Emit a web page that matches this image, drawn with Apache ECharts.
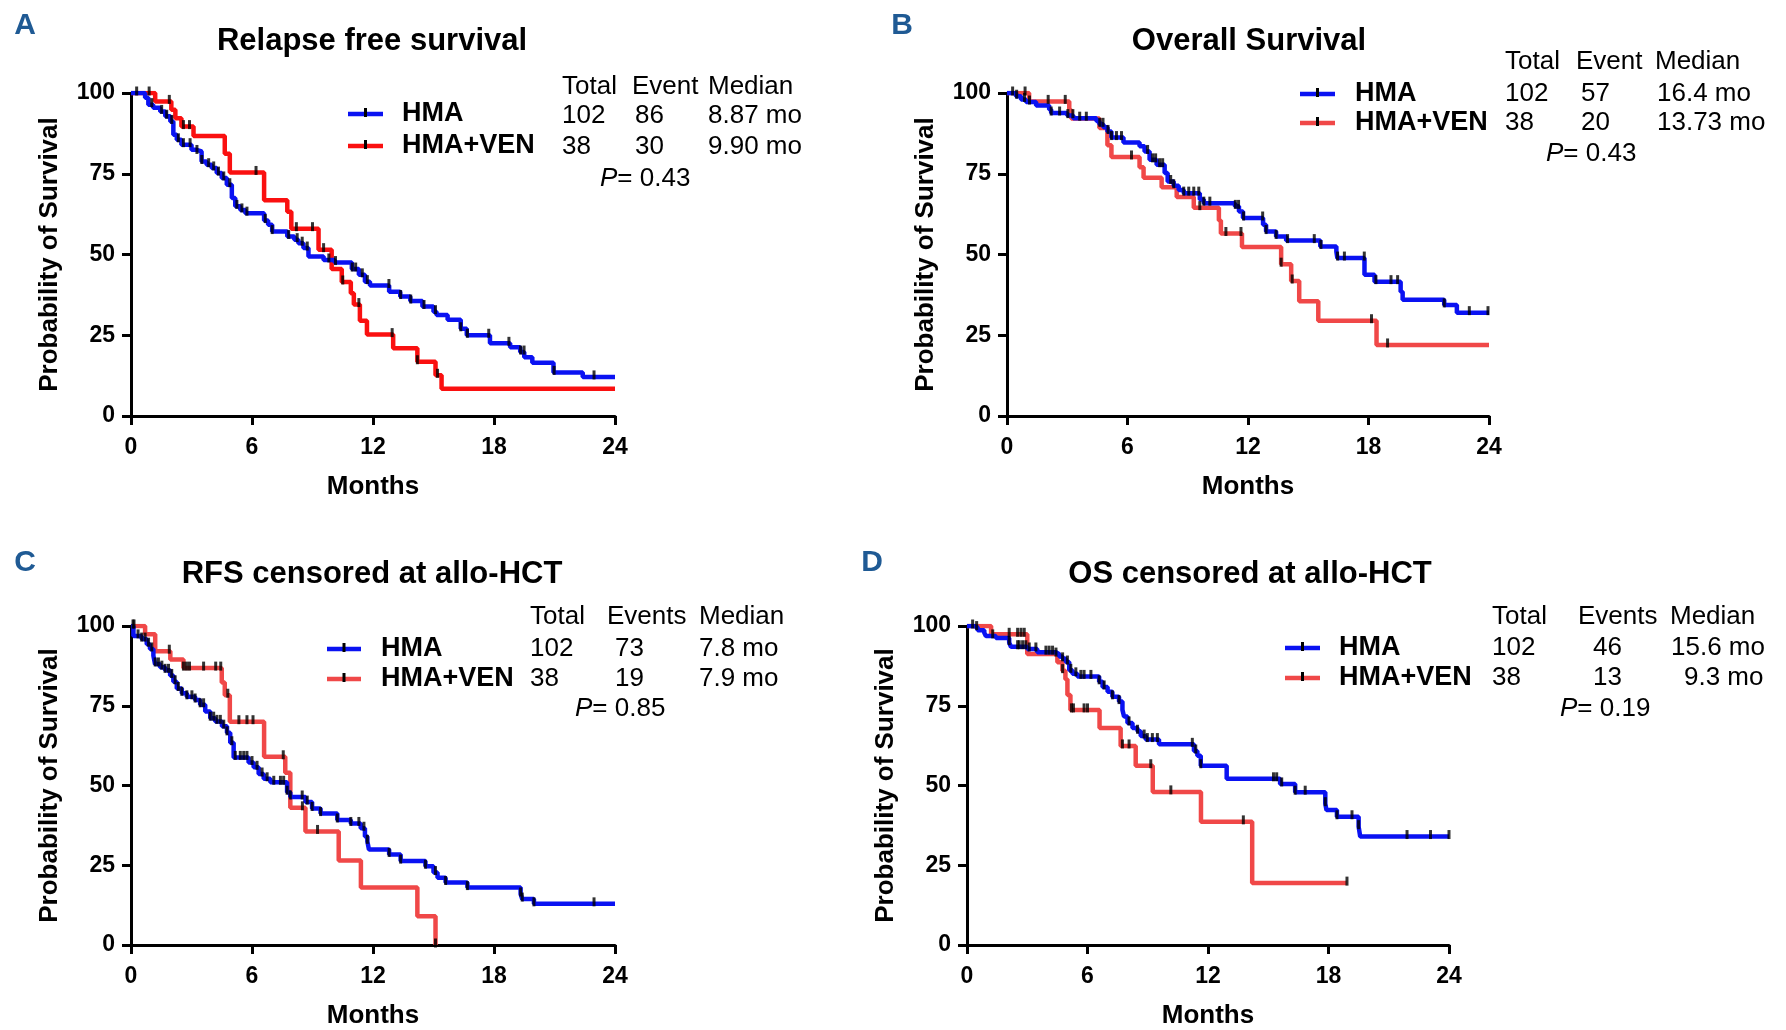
<!DOCTYPE html>
<html>
<head>
<meta charset="utf-8">
<script src="https://cdn.jsdelivr.net/npm/echarts@6/dist/echarts.min.js"></script>
<style>
html,body{margin:0;padding:0;background:#fff;}
#chart{width:1786px;height:1030px;}
</style>
</head>
<body>
<div id="chart"></div>
<script>
// ---------- DATA ----------
var xTicks = [0, 6, 12, 18, 24];
var yTicks = [0, 25, 50, 75, 100];
var groupNames = ['HMA', 'HMA+VEN'];

// Panel A: Relapse free survival  [month, % surviving after step]
var rfsHMA = [[0,100],[0.7,98.5],[0.86,96.4],[1.1,95.4],[1.45,94.3],[1.7,92.8],[1.95,91.2],[2.1,87.1],[2.27,85.5],[2.5,84],[3.0,82.4],[3.25,81.9],[3.5,78.8],[3.75,77.8],[4.0,76.8],[4.25,75.2],[4.5,73.7],[4.75,71.6],[5.0,67.5],[5.17,64.9],[5.42,63.8],[5.67,62.8],[6.6,60.5],[6.8,59.2],[7.0,57.1],[7.75,55.6],[8.1,54.6],[8.3,53.5],[8.55,52],[8.8,49.4],[9.55,48.3],[10.1,47.5],[10.95,45.5],[11.3,43.7],[11.6,41.6],[11.85,40.4],[12.8,38.5],[13.35,37],[13.85,35.6],[14.45,33.9],[15.0,32.3],[15.15,31.3],[15.7,29.8],[16.35,27],[16.65,25],[17.8,22.5],[18.8,21.3],[19.3,19.8],[19.5,18.2],[19.9,16.5],[20.95,13.5],[22.4,12.1],[24,12.1]];
var rfsHMACens = [0.28,1.03,1.52,1.77,2.02,2.35,2.6,2.93,3.27,3.51,3.85,4.1,4.34,4.6,4.9,5.25,5.5,5.75,6.66,7.0,7.82,8.24,8.49,8.74,9.81,10.14,10.97,11.14,11.47,11.72,12.79,13.37,13.87,14.53,15.1,16.35,16.68,17.74,18.74,19.32,19.49,20.98,22.96];
var rfsVEN = [[0,100],[1.2,97.4],[2.0,94.8],[2.2,92.2],[2.5,89.6],[3.1,86.7],[4.65,81.2],[4.9,75.4],[6.6,66.8],[7.75,63.2],[7.95,58],[9.3,51.5],[9.95,45.5],[10.45,41.5],[10.9,38],[11.05,34.5],[11.35,29.5],[11.7,25.2],[13.0,21],[14.2,16.8],[15.1,12.6],[15.4,8.4],[24,8.4]];
var rfsVENCens = [0.9,1.9,2.6,2.9,6.2,8.2,9.0,9.55,10.5,11.3,12.95,14.2,15.2];

// Panel B: Overall Survival
var osHMA = [[0,100],[0.45,99],[0.7,98],[0.95,97.2],[1.45,96.1],[2.1,94.9],[2.2,93.8],[3.0,93],[3.3,92.2],[4.45,91.3],[4.6,90.3],[4.8,89.4],[5.0,88.1],[5.2,86.2],[5.8,84.7],[6.6,83.5],[6.85,81.9],[7.1,79.3],[7.45,77.8],[7.85,75.2],[8.0,72.6],[8.3,71.3],[8.55,70],[8.8,69],[9.6,67],[9.8,65.9],[11.35,64.9],[11.55,63.3],[11.75,61.3],[12.75,59.2],[12.9,57.1],[13.4,55.6],[13.9,54.3],[15.6,52.5],[16.4,50.9],[16.45,48.9],[17.8,43.7],[18.3,41.6],[19.6,38.5],[19.7,36],[21.77,34.4],[22.4,32],[24,32]];
var osHMACens = [0.28,0.48,0.87,1.12,2.2,2.62,3.03,3.28,3.62,3.95,4.62,4.78,5.03,5.2,5.45,5.7,7.0,7.25,7.4,7.6,7.75,8.15,8.3,8.8,9.05,9.3,9.55,9.8,10.1,11.37,11.53,11.78,12.73,12.9,13.4,13.97,15.3,15.63,16.46,16.8,17.79,18.37,19.12,19.45,21.77,23.02,23.95];
var osVEN = [[0,100],[1.1,97.4],[3.1,94.7],[3.2,92.1],[4.6,89.2],[5.0,83.8],[5.2,80.2],[6.6,77],[6.8,73.8],[7.7,70.8],[8.45,67.8],[9.3,64.5],[10.55,60.5],[10.65,56.5],[11.7,52.3],[13.65,47],[14.15,41.8],[14.55,35.5],[15.5,29.5],[18.4,22],[24,22]];
var osVENCens = [0.9,2.05,2.9,6.2,9.6,10.9,11.65,13.65,14.2,18.15,18.95];

// Panel C: RFS censored at allo-HCT
var rfsCensHMA = [[0,100],[0.12,96.9],[0.53,95.9],[0.78,94.3],[0.94,92.8],[1.11,90.7],[1.19,88.1],[1.44,87.1],[1.69,86.1],[1.94,84.5],[2.1,82.5],[2.27,80.4],[2.52,78.9],[2.77,77.8],[3.18,76.8],[3.43,75.3],[3.68,73.2],[3.93,71.1],[4.18,70.1],[4.51,68.6],[4.76,66.5],[4.92,63.4],[5.09,58.8],[5.83,57.2],[6.08,55.7],[6.33,53.6],[6.58,52.1],[6.91,51],[7.74,47.9],[7.9,46.4],[8.65,44.8],[8.98,42.8],[9.4,41.2],[10.23,39.2],[10.9,38.1],[11.39,36.6],[11.6,34],[11.72,32.5],[11.8,29.9],[12.8,28.4],[13.37,26.3],[14.6,24.7],[15.0,22.7],[15.2,21.1],[15.6,19.6],[16.68,18],[19.32,16],[19.4,14.4],[19.98,12.9],[24,12.9]];
var rfsCensHMACens = [0.1,0.35,0.53,0.7,0.87,1.03,1.2,1.36,1.53,1.69,1.86,2.02,2.19,2.35,2.52,2.77,3.02,3.18,3.43,3.6,3.93,4.1,4.26,4.43,4.6,4.76,5.0,5.17,5.42,5.59,5.75,6.0,6.25,6.5,6.75,7.08,7.41,7.57,7.74,7.9,8.49,8.74,8.98,9.4,10.23,10.9,11.3,11.55,11.72,12.8,13.37,14.6,15.1,15.6,16.68,19.32,19.4,19.98,22.96];
var rfsCensVEN = [[0,100],[0.7,97.4],[1.2,92.1],[1.95,89.5],[2.6,86.8],[4.5,82.3],[4.65,78.3],[4.9,70],[6.6,59],[7.65,54],[7.9,43],[8.65,35.6],[10.3,26.5],[11.4,18],[14.2,9],[15.1,0]];
var rfsCensVENCens = [0.15,1.9,2.6,2.75,2.9,3.6,4.2,4.45,4.8,5.35,5.75,6.05,7.55,8.5,9.25,15.1];

// Panel D: OS censored at allo-HCT
var osCensHMA = [[0,100],[0.36,99.5],[0.53,98.7],[0.86,97.9],[0.94,96.9],[1.44,96.2],[2.1,94.8],[2.19,93.5],[3.0,92.8],[3.5,91.8],[4.43,91.2],[4.59,90.4],[4.76,89.7],[4.92,88.7],[5.09,86.1],[5.25,85],[5.5,84.2],[6.58,82.5],[6.75,80.9],[7.0,79.4],[7.24,77.8],[7.57,76.3],[7.74,73.7],[7.82,71.6],[7.99,69.6],[8.24,68],[8.49,67],[8.65,65.5],[8.9,64.4],[9.56,62.9],[11.3,60.8],[11.47,59.3],[11.64,56.2],[12.93,52.1],[15.59,50.5],[16.34,47.9],[17.84,44.3],[17.9,42.3],[18.42,40.2],[19.5,37.1],[19.58,34],[24,34]];
var osCensHMACens = [0.28,0.48,1.28,2.1,2.52,2.6,2.77,2.93,3.1,3.43,3.93,4.09,4.26,4.43,4.76,5.0,5.17,5.42,5.67,5.83,6.17,6.58,6.83,7.24,7.57,8.07,8.49,8.82,8.98,9.23,9.48,11.22,11.39,11.64,15.26,15.42,15.67,16.34,16.84,17.84,18.42,19.17,19.5,21.91,23.08,24];
var osCensVEN = [[0,100],[1.2,97.4],[3.0,91.2],[4.5,88.6],[4.75,86],[4.9,83.3],[5.0,78.4],[5.15,73.7],[6.6,68],[7.65,62.4],[8.4,56.2],[9.25,48],[11.65,38.6],[14.2,19.4],[18.9,19.4]];
var osCensVENCens = [2.1,2.52,2.69,2.85,4.76,5.2,5.3,5.83,6.0,7.74,8.07,9.15,10.15,13.76,18.92];

// Summary tables
var tableA = {head:['Total','Event','Median'], hma:['102','86','8.87 mo'], ven:['38','30','9.90 mo'], p:'0.43'};
var tableB = {head:['Total','Event','Median'], hma:['102','57','16.4 mo'], ven:['38','20','13.73 mo'], p:'0.43'};
var tableC = {head:['Total','Events','Median'], hma:['102','73','7.8 mo'], ven:['38','19','7.9 mo'], p:'0.85'};
var tableD = {head:['Total','Events','Median'], hma:['102','46','15.6 mo'], ven:['38','13','9.3 mo'], p:'0.19'};

// ---------- LAYOUT ----------
var FONT = "'Liberation Sans', Arial, Helvetica, sans-serif";
var BLUE = '#0a12f2';
var panels = [
  {letter:'A', title:'Relapse free survival', hma:rfsHMA, hmaC:rfsHMACens, ven:rfsVEN, venC:rfsVENCens, tbl:tableA, red:'#fa1010',
   grid:{left:131, top:93, width:484, height:323}, titleXY:[372,41], letterXY:[25,26],
   leg:{x1:348, x2:383, y1:114, y2:146, tx:402}, cols:[562,632,708], rowY:[87,116,147], valX:[562,635,708], pXY:[600,179]},
  {letter:'B', title:'Overall Survival', hma:osHMA, hmaC:osHMACens, ven:osVEN, venC:osVENCens, tbl:tableB, red:'#f04848',
   grid:{left:1007, top:93, width:482, height:323}, titleXY:[1249,41], letterXY:[902,26],
   leg:{x1:1300, x2:1335, y1:94, y2:123, tx:1355}, cols:[1505,1576,1655], rowY:[62,94,123], valX:[1505,1581,1657], pXY:[1546,154]},
  {letter:'C', title:'RFS censored at allo-HCT', hma:rfsCensHMA, hmaC:rfsCensHMACens, ven:rfsCensVEN, venC:rfsCensVENCens, tbl:tableC, red:'#f04848',
   grid:{left:131, top:626, width:484, height:324}, titleXY:[372,574], letterXY:[25,563],
   leg:{x1:327, x2:361, y1:649, y2:679, tx:381}, cols:[530,607,699], rowY:[617,649,679], valX:[530,615,699], pXY:[575,709]},
  {letter:'D', title:'OS censored at allo-HCT', hma:osCensHMA, hmaC:osCensHMACens, ven:osCensVEN, venC:osCensVENCens, tbl:tableD, red:'#f04848',
   grid:{left:967, top:626, width:482, height:324}, titleXY:[1250,574], letterXY:[872,563],
   leg:{x1:1285, x2:1320, y1:648, y2:678, tx:1339}, cols:[1492,1578,1670], rowY:[617,648,678], valX:[1492,1593,1671,1684], pXY:[1560,709]}
];

function stepValue(curve, t) {
  var v = curve[0][1];
  for (var i = 0; i < curve.length; i++) { if (curve[i][0] <= t + 1e-9) v = curve[i][1]; else break; }
  return v;
}

var grids = [], xAxes = [], yAxes = [], series = [], graphics = [];
var axisLabelStyle = {color:'#000', fontWeight:'bold', fontSize:23, fontFamily:FONT};
var nameStyle = {color:'#000', fontWeight:'bold', fontSize:26, fontFamily:FONT};

panels.forEach(function(p, i) {
  grids.push({left:p.grid.left, top:p.grid.top, width:p.grid.width, height:p.grid.height, containLabel:false});
  xAxes.push({type:'value', gridIndex:i, min:xTicks[0], max:xTicks[xTicks.length-1], interval:xTicks[1]-xTicks[0],
    axisLine:{show:true, onZero:false, lineStyle:{color:'#000', width:3}},
    axisTick:{show:true, length:9, lineStyle:{color:'#000', width:3}},
    axisLabel:Object.assign({margin:20}, axisLabelStyle), splitLine:{show:false},
    name:'Months', nameLocation:'middle', nameGap:58, nameTextStyle:nameStyle});
  yAxes.push({type:'value', gridIndex:i, min:yTicks[0], max:yTicks[yTicks.length-1], interval:yTicks[1]-yTicks[0],
    axisLine:{show:true, onZero:false, lineStyle:{color:'#000', width:3}},
    axisTick:{show:true, length:9, lineStyle:{color:'#000', width:3}},
    axisLabel:Object.assign({margin:16}, axisLabelStyle), splitLine:{show:false},
    name:'Probability of Survival', nameLocation:'middle', nameRotate:90, nameGap:68, nameTextStyle:nameStyle});

  series.push({type:'line', name:groupNames[1], xAxisIndex:i, yAxisIndex:i, data:p.ven, step:'end', showSymbol:false, symbol:'none',
    lineStyle:{color:p.red, width:4.5}, itemStyle:{color:p.red}, z:2, animation:false});
  series.push({type:'line', name:groupNames[0], xAxisIndex:i, yAxisIndex:i, data:p.hma, step:'end', showSymbol:false, symbol:'none',
    lineStyle:{color:BLUE, width:4.5}, itemStyle:{color:BLUE}, z:3, animation:false});
  series.push({type:'scatter', xAxisIndex:i, yAxisIndex:i, data:p.venC.map(function(t){return [t, stepValue(p.ven, t)];}),
    symbol:'rect', symbolSize:[3,9], symbolOffset:[0,-2], itemStyle:{color:'#000'}, z:4, animation:false, silent:true});
  series.push({type:'scatter', xAxisIndex:i, yAxisIndex:i, data:p.hmaC.map(function(t){return [t, stepValue(p.hma, t)];}),
    symbol:'rect', symbolSize:[3,9], symbolOffset:[0,-2], itemStyle:{color:'#000'}, z:5, animation:false, silent:true});

  // letter & title
  graphics.push({type:'text', x:p.letterXY[0], y:p.letterXY[1], style:{text:p.letter, font:'bold 30px '+FONT, fill:'#1f5a94', align:'center', verticalAlign:'middle'}});
  graphics.push({type:'text', x:p.titleXY[0], y:p.titleXY[1], style:{text:p.title, font:'bold 31px '+FONT, fill:'#000', align:'center', verticalAlign:'middle'}});
  // legend
  var L = p.leg, mid = (L.x1 + L.x2) / 2;
  [[L.y1, BLUE, groupNames[0]], [L.y2, p.red, groupNames[1]]].forEach(function(r) {
    graphics.push({type:'line', shape:{x1:L.x1, y1:r[0], x2:L.x2, y2:r[0]}, style:{stroke:r[1], lineWidth:4.5}});
    graphics.push({type:'rect', shape:{x:mid-1.5, y:r[0]-6, width:3, height:9}, style:{fill:'#000'}});
    graphics.push({type:'text', x:L.tx, y:r[0], style:{text:r[2], font:'bold 27px '+FONT, fill:'#000', align:'left', verticalAlign:'middle'}});
  });
  // table
  var T = p.tbl;
  T.head.forEach(function(h, k) {
    graphics.push({type:'text', x:p.cols[k], y:p.rowY[0], style:{text:h, font:'26px '+FONT, fill:'#000', align:'left', verticalAlign:'middle'}});
  });
  [T.hma, T.ven].forEach(function(row, r) {
    row.forEach(function(v, k) {
      var x = p.valX[k];
      if (p.letter === 'D' && k === 2 && r === 1) x = p.valX[3];
      graphics.push({type:'text', x:x, y:p.rowY[r+1], style:{text:v, font:'26px '+FONT, fill:'#000', align:'left', verticalAlign:'middle'}});
    });
  });
  graphics.push({type:'text', x:p.pXY[0], y:p.pXY[1], style:{text:'{i|P}{n|= ' + T.p + '}', fill:'#000', align:'left', verticalAlign:'middle',
    rich:{i:{fontStyle:'italic', fontSize:26, fontFamily:FONT, fill:'#000'}, n:{fontSize:26, fontFamily:FONT, fill:'#000'}}}});
});

var chart = echarts.init(document.getElementById('chart'), null, {renderer:'canvas', width:1786, height:1030});
chart.setOption({
  backgroundColor:'#ffffff',
  animation:false,
  grid:grids, xAxis:xAxes, yAxis:yAxes, series:series,
  graphic:{elements:graphics}
});
</script>
</body>
</html>
